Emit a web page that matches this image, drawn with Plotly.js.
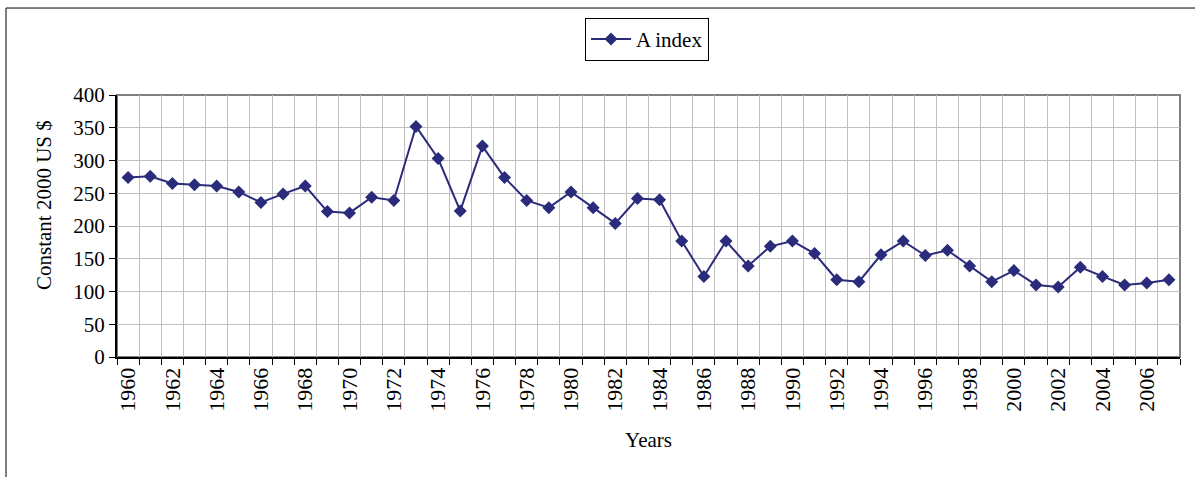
<!DOCTYPE html>
<html>
<head>
<meta charset="utf-8">
<script src="https://cdn.plot.ly/plotly-3.0.1.min.js"></script>
<style>
  html, body { margin: 0; padding: 0; background: #fff; }
  #plotArea { width: 1195px; height: 477px; }
</style>
</head>
<body>
<div id="plotArea"></div>
<script>
// Years on the x axis
var years = [1960, 1961, 1962, 1963, 1964, 1965, 1966, 1967, 1968, 1969,
	1970, 1971, 1972, 1973, 1974, 1975, 1976, 1977, 1978, 1979,
	1980, 1981, 1982, 1983, 1984, 1985, 1986, 1987, 1988, 1989,
	1990, 1991, 1992, 1993, 1994, 1995, 1996, 1997, 1998, 1999,
	2000, 2001, 2002, 2003, 2004, 2005, 2006, 2007];

// A index, constant 2000 US $
var aIndex = [274, 276, 265, 263, 261, 252, 236, 249, 261, 222,
	220, 244, 239, 352, 303, 223, 322, 274, 239, 228,
	252, 228, 204, 242, 240, 177, 123, 177, 139, 169,
	177, 158, 118, 115, 156, 177, 155, 163, 139, 115,
	132, 110, 107, 137, 123, 110, 113, 118];

// labels on every second year
var tickYears = years.filter(function (y) { return y % 2 === 0; });

var serif = "Liberation Serif, Times New Roman, serif";

var trace = {
	x: years,
	y: aIndex,
	mode: "lines+markers",
	type: "scatter",
	name: "A index",
	line: { color: "#2B2B7B", width: 2 },
	marker: { symbol: "diamond", size: 10, color: "#2B2B7B" }
};

var layout = {
	width: 1195,
	height: 477,
	margin: { l: 117, r: 15, t: 95, b: 120 },
	paper_bgcolor: "#fff",
	plot_bgcolor: "#fff",
	font: { family: serif, size: 21, color: "#000" },
	showlegend: true,
	legend: {
		x: 0.4986, xanchor: "center",
		y: 1.294, yanchor: "top",
		bordercolor: "#000", borderwidth: 1,
		font: { family: serif, size: 21 },
		itemwidth: 40
	},
	xaxis: {
		range: [1959.5, 2007.5],
		tickmode: "array",
		tickvals: tickYears,
		ticktext: tickYears.map(String),
		tickangle: -90,
		tickfont: { family: serif, size: 22 },
		ticks: "",
		showgrid: false,
		zeroline: false,
		showline: true,
		linecolor: "#000",
		linewidth: 2,
		minor: {
			tick0: 1959.5, dtick: 1,
			ticks: "outside", ticklen: 6, tickcolor: "#000",
			showgrid: true, gridcolor: "#c0c0c0", gridwidth: 1
		},
		title: { text: "Years", font: { family: serif, size: 21 }, standoff: 22 }
	},
	yaxis: {
		range: [0, 400],
		dtick: 50,
		ticks: "outside",
		ticklen: 6,
		tickcolor: "#000",
		tickfont: { family: serif, size: 21 },
		showgrid: true,
		gridcolor: "#c0c0c0",
		zeroline: false,
		showline: true,
		linecolor: "#000",
		linewidth: 2
	},
	annotations: [
		// y axis title, placed where the original puts it
		{ text: "Constant 2000 US $", textangle: -90, showarrow: false,
			xref: "paper", yref: "paper", x: -0.0687, y: 0.58,
			xanchor: "center", yanchor: "middle",
			font: { family: serif, size: 21 } }
	],
	shapes: [
		// gray frame round the plot area
		{ type: "rect", xref: "paper", yref: "paper", x0: 0, x1: 1, y0: 0, y1: 1,
			line: { color: "#808080", width: 2 }, layer: "below" },
		// outer chart frame
		{ type: "rect", xref: "paper", yref: "paper", x0: -0.1044, x1: 1.05, y0: -0.5, y1: 1.332,
			line: { color: "#000", width: 1 } }
	]
};

Plotly.newPlot("plotArea", [trace], layout, { displayModeBar: false });
</script>
</body>
</html>
